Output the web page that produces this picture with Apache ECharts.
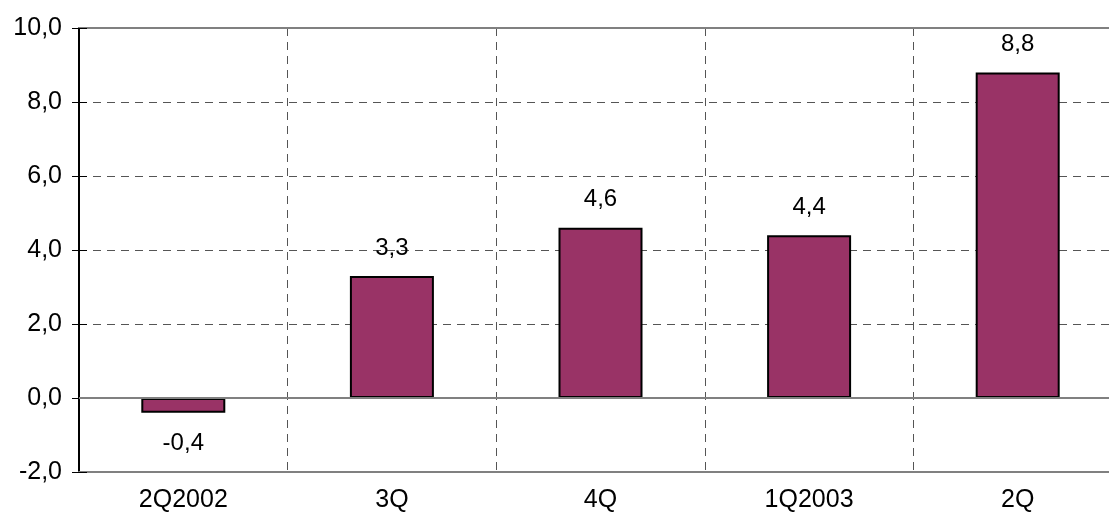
<!DOCTYPE html>
<html lang="en">
<head>
    <meta charset="UTF-8">
    <title>Quarterly chart</title>
    <style>
        html, body { margin: 0; padding: 0; background: white; overflow: hidden; }
        #fig { width: 1125px; height: 527px; }
    </style>
    <script src="https://cdn.jsdelivr.net/npm/echarts@6/dist/echarts.min.js"></script>
</head>
<body>
<div id="fig"></div>
<script>
    // data
    const categories = ['2Q2002', '3Q', '4Q', '1Q2003', '2Q'];
    const values = [-0.4, 3.3, 4.6, 4.4, 8.8];
    const yMin = -2, yMax = 10, yStep = 2;

    const font = 'Liberation Sans, Arial, sans-serif';
    const fmt = v => Number(v).toFixed(1).replace('.', ',');

    const fig = echarts.init(document.getElementById('fig'), null, {renderer: 'canvas'});

    // negative bar gets its label underneath
    const barData = values.map(v => ({
        value: v,
        label: {position: v < 0 ? 'bottom' : 'top', distance: v < 0 ? 19 : 16}
    }));

    fig.setOption({
        animation: false,
        grid: {left: 79, top: 28, width: 1043, bottom: 55},
        xAxis: [{
            type: 'category',
            data: categories,
            position: 'bottom',
            axisLine: {onZero: false, lineStyle: {color: '#808080', width: 2}},
            axisTick: {show: false},
            axisLabel: {color: '#000', fontFamily: font, fontSize: 25, margin: 16},
            splitLine: {show: true, lineStyle: {color: '#555', type: [8, 6], width: 1}}
        }, {
            type: 'category',
            data: categories,
            position: 'top',
            axisLine: {show: true, onZero: false, lineStyle: {color: '#808080', width: 2}},
            axisTick: {show: false},
            axisLabel: {show: false},
            splitLine: {show: false}
        }],
        yAxis: [{
            type: 'value',
            min: yMin, max: yMax, interval: yStep,
            axisLine: {show: true, lineStyle: {color: '#000', width: 2}},
            axisTick: {show: true, length: 7, lineStyle: {color: '#000', width: 1}},
            axisLabel: {color: '#000', fontFamily: font, fontSize: 25, margin: 17, formatter: fmt},
            splitLine: {show: true, lineStyle: {color: '#555', type: [8, 6], width: 1}}
        }, {
            type: 'value',
            position: 'left',
            min: yMin, max: yMax, interval: yStep,
            axisLine: {show: false},
            axisTick: {show: true, inside: true, length: 8, lineStyle: {color: '#000', width: 1}},
            axisLabel: {show: false},
            splitLine: {show: false}
        }],
        series: [{
            type: 'bar',
            data: barData,
            barWidth: 84,
            itemStyle: {color: '#993366', borderColor: '#000', borderWidth: 2},
            label: {show: true, color: '#000', fontFamily: font, fontSize: 24, formatter: p => fmt(p.value)},
            markLine: {
                silent: true,
                symbol: 'none',
                label: {show: false},
                lineStyle: {color: '#808080', type: 'solid', width: 2},
                data: [{yAxis: 0}]
            }
        }]
    });
</script>
</body>
</html>
